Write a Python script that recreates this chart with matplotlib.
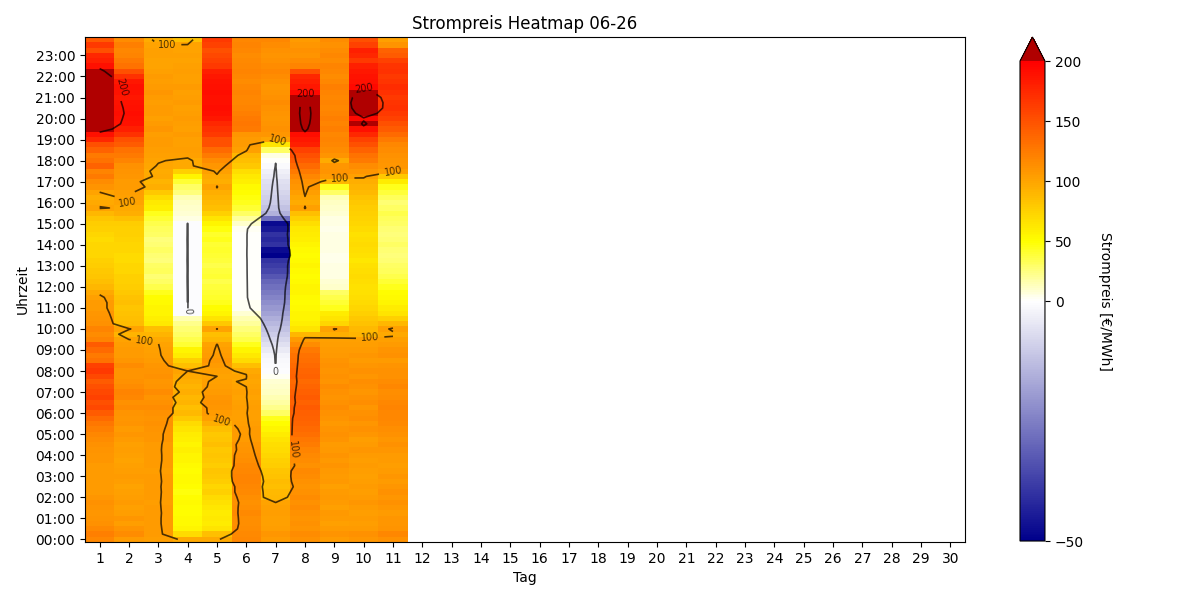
import numpy as np
import matplotlib
matplotlib.use("Agg")
import matplotlib.pyplot as plt
from matplotlib.colors import LinearSegmentedColormap, TwoSlopeNorm

# Tage im Monat und Viertelstunden
days = list(range(1, 31))
quarters = list(range(96))
hour_labels = [f"{h:02d}:00" for h in range(24)]
level_lines = [0, 100, 200]
cbar_ticks = [-50, 0, 50, 100, 150, 200]

# Strompreise in EUR/MWh, je Tag 96 Viertelstunden (00:00 .. 23:45)
day1 = [118, 122, 116, 112, 110, 108, 110, 112, 108, 106, 106, 105,
        106, 105, 106, 108, 108, 110, 112, 115, 118, 122, 128, 135,
        145, 155, 150, 160, 155, 150, 145, 155, 165, 160, 130, 125,
        135, 145, 120, 115, 120, 112, 110, 108, 106, 105, 103, 97,
        90, 85, 82, 80, 78, 75, 72, 72, 72, 70, 72, 75,
        78, 82, 90, 101, 97, 95, 100, 110, 115, 125, 120, 140,
        130, 125, 140, 150, 175, 190, 215, 230, 235, 240, 240, 235,
        235, 230, 230, 225, 220, 210, 190, 180, 175, 150, 165, 145]
day2 = [106, 115, 110, 104, 108, 104, 102, 106, 104, 102, 101, 104,
        106, 104, 102, 101, 102, 104, 102, 106, 108, 106, 110, 108,
        110, 115, 112, 118, 120, 115, 112, 110, 110, 115, 108, 106,
        106, 104, 100, 92, 101, 86, 85, 84, 82, 85, 84, 80,
        78, 75, 75, 73, 72, 70, 70, 72, 72, 74, 75, 76,
        78, 85, 95, 98, 100, 103, 104, 106, 105, 108, 110, 112,
        120, 125, 130, 145, 150, 170, 180, 188, 190, 192, 190, 188,
        185, 188, 190, 185, 170, 150, 130, 125, 120, 118, 122, 115]
day3 = [104, 105, 106, 105, 105, 106, 105, 104, 105, 106, 105, 106,
        105, 104, 105, 106, 106, 105, 106, 108, 108, 110, 112, 110,
        112, 115, 112, 110, 115, 110, 108, 112, 110, 108, 106, 104,
        103, 101, 97, 92, 85, 62, 58, 55, 55, 52, 50, 45,
        35, 30, 28, 32, 30, 25, 28, 30, 28, 25, 30, 32,
        35, 40, 45, 58, 62, 70, 80, 95, 92, 98, 96, 99,
        101, 103, 104, 105, 106, 104, 108, 106, 102, 105, 106, 104,
        106, 108, 105, 104, 105, 102, 101, 100, 103, 102, 100, 96]
day4 = [98, 70, 55, 52, 52, 50, 50, 52, 50, 48, 50, 52,
        52, 50, 52, 55, 55, 58, 56, 58, 60, 65, 70, 80,
        88, 85, 92, 90, 94, 92, 95, 97, 100, 85, 75, 60,
        55, 40, 35, 30, 28, 22, 15, -0.5, -0.5, -0.5, -0.5, -0.5,
        -0.5, -0.5, -0.5, -0.5, -0.5, -0.5, -0.5, -0.5, -0.5, -0.5, -0.5, -0.5,
        -0.5, 5, 8, 10, 12, 15, 25, 30, 40, 55, 75, 98,
        97, 103, 104, 102, 103, 105, 102, 104, 106, 104, 103, 105,
        104, 102, 105, 103, 102, 104, 103, 101, 102, 100, 101, 85]
day5 = [98, 85, 65, 60, 62, 60, 64, 66, 70, 75, 72, 78,
        80, 82, 78, 80, 82, 80, 85, 82, 80, 85, 95, 102,
        106, 108, 110, 108, 106, 104, 102, 100, 103, 106, 108, 106,
        104, 101, 90, 85, 101, 80, 65, 55, 50, 45, 42, 40,
        38, 35, 40, 38, 35, 38, 40, 42, 40, 45, 42, 48,
        55, 65, 75, 85, 88, 92, 95, 101, 95, 98, 103, 108,
        115, 125, 135, 150, 150, 165, 170, 175, 185, 190, 192, 190,
        190, 192, 190, 188, 185, 180, 165, 160, 155, 150, 160, 165]
day6 = [118, 116, 115, 114, 114, 116, 114, 112, 114, 116, 118, 120,
        120, 118, 116, 114, 112, 110, 108, 106, 105, 106, 104, 103,
        102, 104, 103, 101, 102, 100, 99, 101, 98, 85, 70, 62,
        55, 45, 35, 30, 25, 20, 15, 8, 3, 2, 1, 1,
        1, 1, 1, 1, 1, 1, 1, 1, 1, 1, 1, 2,
        10, 20, 30, 40, 45, 48, 50, 52, 58, 62, 68, 80,
        85, 90, 102, 105, 106, 108, 125, 128, 125, 122, 120, 118,
        118, 120, 118, 115, 118, 120, 118, 116, 115, 118, 120, 118]
day7 = [105, 108, 104, 102, 103, 104, 102, 100, 90, 88, 85, 86,
        84, 82, 78, 75, 72, 70, 68, 65, 60, 55, 50, 45,
        30, 22, 18, 15, 12, 10, 8, 3, -0.5, -1, -1.5, -2,
        -4, -6, -8, -10, -12, -14, -16, -18, -20, -22, -24, -26,
        -28, -30, -33, -36, -38, -40, -50, -48, -40, -42, -40, -45,
        -48, -28, -15, -12, -10, -9, -8, -7, -6, -4, -3, -1,
        1, 5, 30, 65, 100, 108, 112, 110, 108, 110, 112, 115,
        112, 110, 108, 112, 115, 118, 115, 112, 110, 112, 115, 118]
day8 = [112, 115, 110, 112, 110, 112, 115, 112, 115, 112, 110, 112,
        115, 116, 112, 115, 116, 120, 124, 128, 132, 135, 138, 140,
        142, 145, 140, 145, 142, 138, 135, 140, 138, 135, 132, 130,
        125, 115, 105, 90, 65, 58, 55, 55, 52, 50, 52, 55,
        55, 52, 50, 52, 55, 52, 50, 52, 55, 58, 60, 62,
        68, 75, 85, 102, 96, 99, 104, 108, 112, 118, 125, 135,
        145, 150, 160, 180, 185, 192, 208, 215, 218, 220, 218, 216,
        210, 195, 185, 180, 175, 150, 120, 115, 110, 112, 108, 105]
day9 = [106, 110, 105, 103, 105, 107, 103, 105, 107, 105, 103, 107,
        105, 107, 110, 107, 110, 107, 105, 110, 112, 110, 107, 110,
        112, 115, 112, 110, 112, 115, 110, 112, 110, 112, 110, 107,
        106, 104, 102, 95, 101, 72, 65, 60, 45, 40, 35, 30,
        10, 8, 6, 5, 5, 4, 4, 5, 5, 6, 5, 4,
        5, 6, 8, 10, 12, 15, 30, 45, 90, 105, 110, 108,
        96, 110, 115, 118, 120, 118, 122, 120, 122, 120, 118, 120,
        118, 120, 122, 118, 115, 118, 120, 115, 118, 115, 112, 115]
day10 = [108, 112, 106, 104, 106, 104, 106, 108, 106, 104, 106, 104,
         103, 104, 106, 104, 106, 108, 106, 104, 108, 112, 108, 114,
         112, 108, 114, 112, 108, 112, 114, 108, 112, 108, 106, 108,
         106, 104, 102, 92, 88, 84, 80, 76, 72, 70, 68, 66,
         66, 68, 70, 68, 66, 64, 66, 68, 70, 68, 66, 70,
         72, 74, 76, 78, 80, 84, 88, 92, 95, 102, 108, 115,
         125, 130, 140, 150, 160, 175, 190, 206, 195, 230, 255, 262,
         250, 215, 195, 190, 188, 185, 180, 165, 175, 180, 160, 150]
day11 = [112, 118, 110, 108, 108, 106, 108, 112, 108, 112, 108, 106,
         108, 106, 104, 106, 106, 108, 112, 108, 112, 114, 116, 118,
         118, 120, 118, 115, 114, 118, 115, 112, 112, 110, 106, 112,
         110, 106, 103, 98, 102, 90, 75, 65, 60, 55, 52, 50,
         45, 40, 35, 32, 30, 28, 25, 28, 30, 28, 25, 28,
         30, 32, 35, 30, 28, 32, 38, 45, 60, 80, 102, 108,
         110, 112, 115, 118, 125, 135, 145, 150, 160, 165, 170, 168,
         165, 170, 172, 168, 165, 170, 168, 160, 145, 140, 110, 102]

prices = [day1, day2, day3, day4, day5, day6, day7, day8, day9, day10, day11]

# ungefaehre Stellen der Konturbeschriftungen (Tag, Viertelstunde)
label_spots = [(3.3, 95), (1.85, 86), (8.0, 85.5), (10.0, 86), (7.1, 76),
               (9.2, 70), (11.0, 70.5), (1.9, 63.5), (4.0, 43.5), (2.6, 40),
               (10.2, 40), (7.0, 30.5), (5.1, 21.5), (7.5, 17)]

n_days = len(prices)
data = np.full((len(quarters), len(days)), np.nan)
for i, col in enumerate(prices):
    data[:, i] = col

cmap = LinearSegmentedColormap.from_list(
    "strompreis",
    [(0.0, "darkblue"), (0.5, "white"), (0.625, "yellow"), (0.75, "orange"), (1.0, "red")])
cmap.set_over("#b00000")
cmap.set_bad("white")
norm = TwoSlopeNorm(vmin=-50, vcenter=0, vmax=200)

fig = plt.figure(figsize=(12, 6), dpi=100)
ax = fig.add_axes([0.0708, 0.0967, 0.7334, 0.8416])

x_edges = np.arange(days[0] - 0.5, days[-1] + 1)
y_edges = np.arange(-0.5, len(quarters))
im = ax.pcolormesh(x_edges, y_edges, np.ma.masked_invalid(data), cmap=cmap, norm=norm)

X, Y = np.meshgrid(days[:n_days], quarters)
cs = ax.contour(X, Y, data[:, :n_days], levels=level_lines, colors="black",
                linewidths=1.2, alpha=0.7)
ax.clabel(cs, fmt="%d", fontsize=7, manual=label_spots)

ax.set_xlim(days[0] - 0.5, days[-1] + 0.5)
ax.set_ylim(-0.5, len(quarters) - 0.5)
ax.set_xticks(days)
ax.set_yticks(quarters[::4])
ax.set_yticklabels(hour_labels)
ax.set_xlabel("Tag")
ax.set_ylabel("Uhrzeit")
ax.set_title("Strompreis Heatmap 06-26")

cax = fig.add_axes([0.85, 0.0983, 0.0208, 0.84])
cb = fig.colorbar(im, cax=cax, extend="max", ticks=cbar_ticks)
cb.set_label("Strompreis [€/MWh]", rotation=270, labelpad=20)

fig.savefig("out.png", dpi=100)
